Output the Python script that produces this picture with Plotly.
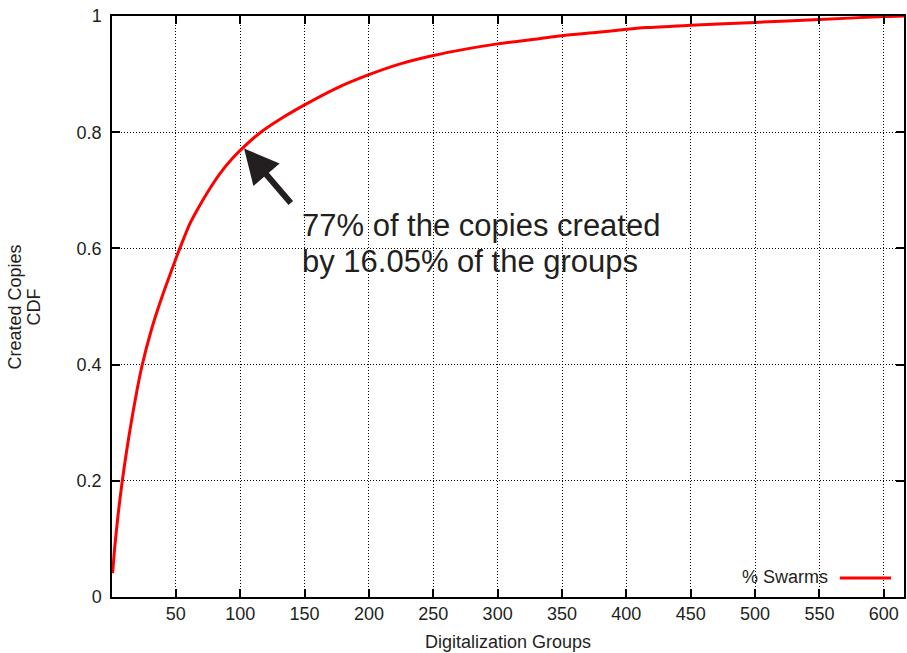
import plotly.graph_objects as go

# CDF of created copies against number of digitalization groups
groups = [0.9, 2.5, 5.3, 8.1, 11.8, 15.7, 19.5, 23.4, 31, 39, 48, 52, 57, 61, 67, 75, 84, 94,
          102, 116, 130, 150, 175, 200, 225, 250, 275, 300, 332, 350, 378, 400, 415, 450,
          500, 550, 600, 616]
cdf = [0.041, 0.085, 0.145, 0.195, 0.252, 0.305, 0.352, 0.395, 0.46, 0.515, 0.57, 0.594,
       0.622, 0.643, 0.668, 0.698, 0.728, 0.755, 0.773, 0.8, 0.821, 0.847, 0.876, 0.899,
       0.918, 0.932, 0.943, 0.952, 0.961, 0.966, 0.972, 0.977, 0.98, 0.984, 0.989, 0.994,
       0.999, 1.0]

x_ticks = [50, 100, 150, 200, 250, 300, 350, 400, 450, 500, 550, 600]
y_ticks = [0, 0.2, 0.4, 0.6, 0.8, 1]
y_tick_labels = ["0", "0.2", "0.4", "0.6", "0.8", "1"]

# highlighted point on the curve
note_x, note_y = 103, 0.772
note_lines = ["77% of the copies created", "by 16.05% of the groups"]

x_title = "Digitalization Groups"
y_title_lines = ["Created Copies", "CDF"]

FONT = "Liberation Sans, Arial, sans-serif"
INK = "#231f20"

fig = go.Figure()
fig.add_trace(go.Scatter(
    x=groups, y=cdf, mode="lines", name="% Swarms",
    line=dict(color="#ff0000", width=3, shape="spline", smoothing=0.8),
    showlegend=False,
))

axis_common = dict(
    showline=True, linecolor="black", linewidth=1.5, mirror="allticks",
    ticks="inside", ticklen=8, tickwidth=1.5, tickcolor="black",
    showgrid=True, gridcolor="black", gridwidth=1, griddash="1px,2px",
    zeroline=False,
    tickfont=dict(family=FONT, size=18, color=INK),
)

fig.update_xaxes(
    range=[0.4, 615.7], tickvals=x_ticks,
    title=dict(text=x_title, font=dict(family=FONT, size=18, color=INK), standoff=12),
    **axis_common,
)
fig.update_yaxes(
    range=[0, 1], tickvals=y_ticks, ticktext=y_tick_labels, ticklabelstandoff=5,
    **axis_common,
)

# y-axis title as two tightly stacked rotated lines
for text, xpos in zip(y_title_lines, [-0.1225, -0.0985]):
    fig.add_annotation(
        x=xpos, y=0.50, xref="paper", yref="paper", text=text, textangle=-90,
        showarrow=False, xanchor="center", yanchor="middle",
        font=dict(family=FONT, size=18, color=INK),
    )

# arrow pointing at the highlighted point
fig.add_annotation(
    x=note_x, y=note_y, xref="x", yref="y", text="",
    showarrow=True, arrowhead=2, arrowsize=1.15, arrowwidth=6, arrowcolor=INK,
    ax=48, ay=56, standoff=0,
)
for text, ypos in zip(note_lines, [0.640, 0.5766]):
    fig.add_annotation(
        x=0.2368, y=ypos, xref="paper", yref="paper", text=text,
        showarrow=False, xanchor="left", yanchor="middle", align="left",
        font=dict(family=FONT, size=31, color=INK),
    )

# legend entry: label followed by line sample
fig.add_annotation(
    x=0.907, y=0.0344, xref="paper", yref="paper", text="% Swarms",
    showarrow=False, xanchor="right", yanchor="middle",
    font=dict(family=FONT, size=18, color=INK),
)
fig.add_shape(
    type="line", xref="paper", yref="paper",
    x0=0.919, x1=0.9836, y0=0.0327, y1=0.0327,
    line=dict(color="#ff0000", width=3),
)

fig.update_layout(
    width=907, height=653,
    margin=dict(l=112, r=1, t=16, b=56),
    paper_bgcolor="white", plot_bgcolor="white",
    showlegend=False,
)

fig.write_html("out.html")
